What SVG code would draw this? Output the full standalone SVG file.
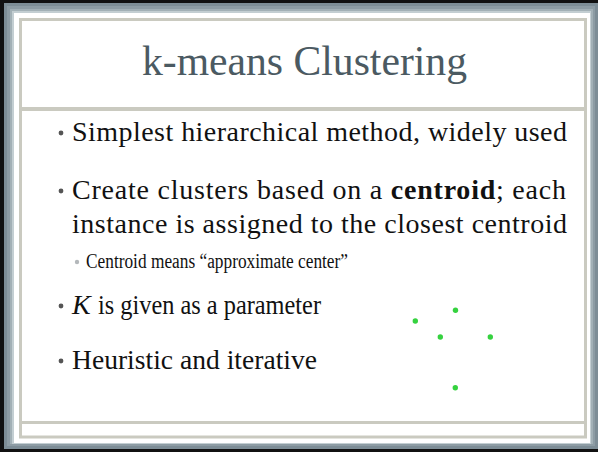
<svg xmlns="http://www.w3.org/2000/svg" width="598" height="452" viewBox="0 0 598 452">
  <style>
    .title { font-family: "Liberation Serif", "DejaVu Serif", serif; font-size: 41.5px; fill: #4b5a62; }
    .body { font-family: "Liberation Serif", "DejaVu Serif", serif; font-size: 28px; fill: #111111; }
    .sub { font-family: "Liberation Serif", "DejaVu Serif", serif; font-size: 20px; fill: #111111; }
    .bullet { fill: #555555; }
    .subbullet { fill: #b4b8bb; }
    .rule { fill: #cacac0; }
    .dot { fill: #35d23f; }
  </style>

  <!-- slide frame -->
  <g id="frame">
    <rect x="0" y="0" width="598" height="452" fill="#111111"/>
    <rect x="4" y="3" width="594" height="446" fill="#7d8d96"/>
    <rect x="7" y="6" width="588" height="440" fill="#8d9ca4"/>
    <rect x="10" y="9" width="583" height="435" fill="#a2b0b6"/>
    <rect x="12" y="11" width="579" height="433" fill="#c3ced2"/>
    <rect x="14" y="13" width="576" height="430" fill="#ffffff"/>
    <rect x="20.5" y="19.5" width="565" height="417.5" fill="none" stroke="#cacac0" stroke-width="3"/>
    <rect class="rule" x="19" y="107" width="568" height="4"/>
    <rect class="rule" x="19" y="421" width="568" height="3"/>
  </g>

  <!-- heading -->
  <g id="title">
    <text class="title" x="142" y="75" textLength="325" lengthAdjust="spacingAndGlyphs">k-means Clustering</text>
  </g>

  <!-- bullet list -->
  <g id="bullets">
    <g id="item-simplest">
      <circle class="bullet" cx="61" cy="133" r="2.4"/>
      <text class="body" x="72" y="141" textLength="495" lengthAdjust="spacing">Simplest hierarchical method, widely used</text>
    </g>
    <g id="item-centroid">
      <circle class="bullet" cx="61" cy="191" r="2.4"/>
      <text class="body" x="72" y="199" textLength="494" lengthAdjust="spacing">Create clusters based on a <tspan font-weight="bold">centroid</tspan>; each</text>
      <text class="body" x="72" y="233" textLength="495" lengthAdjust="spacing">instance is assigned to the closest centroid</text>
    </g>
    <g id="item-centroid-note">
      <circle class="subbullet" cx="77" cy="262" r="2.2"/>
      <text class="sub" x="86" y="268" textLength="262" lengthAdjust="spacingAndGlyphs">Centroid means “approximate center”</text>
    </g>
    <g id="item-k">
      <circle class="bullet" cx="61" cy="306" r="2.4"/>
      <text class="body" x="72" y="314" font-style="italic">K</text>
      <text class="body" x="98" y="314" textLength="223" lengthAdjust="spacingAndGlyphs">is given as a parameter</text>
    </g>
    <g id="item-heuristic">
      <circle class="bullet" cx="61" cy="361" r="2.4"/>
      <text class="body" x="72" y="369" textLength="245" lengthAdjust="spacingAndGlyphs">Heuristic and iterative</text>
    </g>
  </g>

  <!-- sample points -->
  <g id="points">
    <circle class="dot" cx="455.5" cy="310.3" r="2.7"/>
    <circle class="dot" cx="415.3" cy="321" r="2.7"/>
    <circle class="dot" cx="440.3" cy="337" r="2.7"/>
    <circle class="dot" cx="490.3" cy="337" r="2.7"/>
    <circle class="dot" cx="455.3" cy="387.7" r="2.7"/>
  </g>
</svg>
